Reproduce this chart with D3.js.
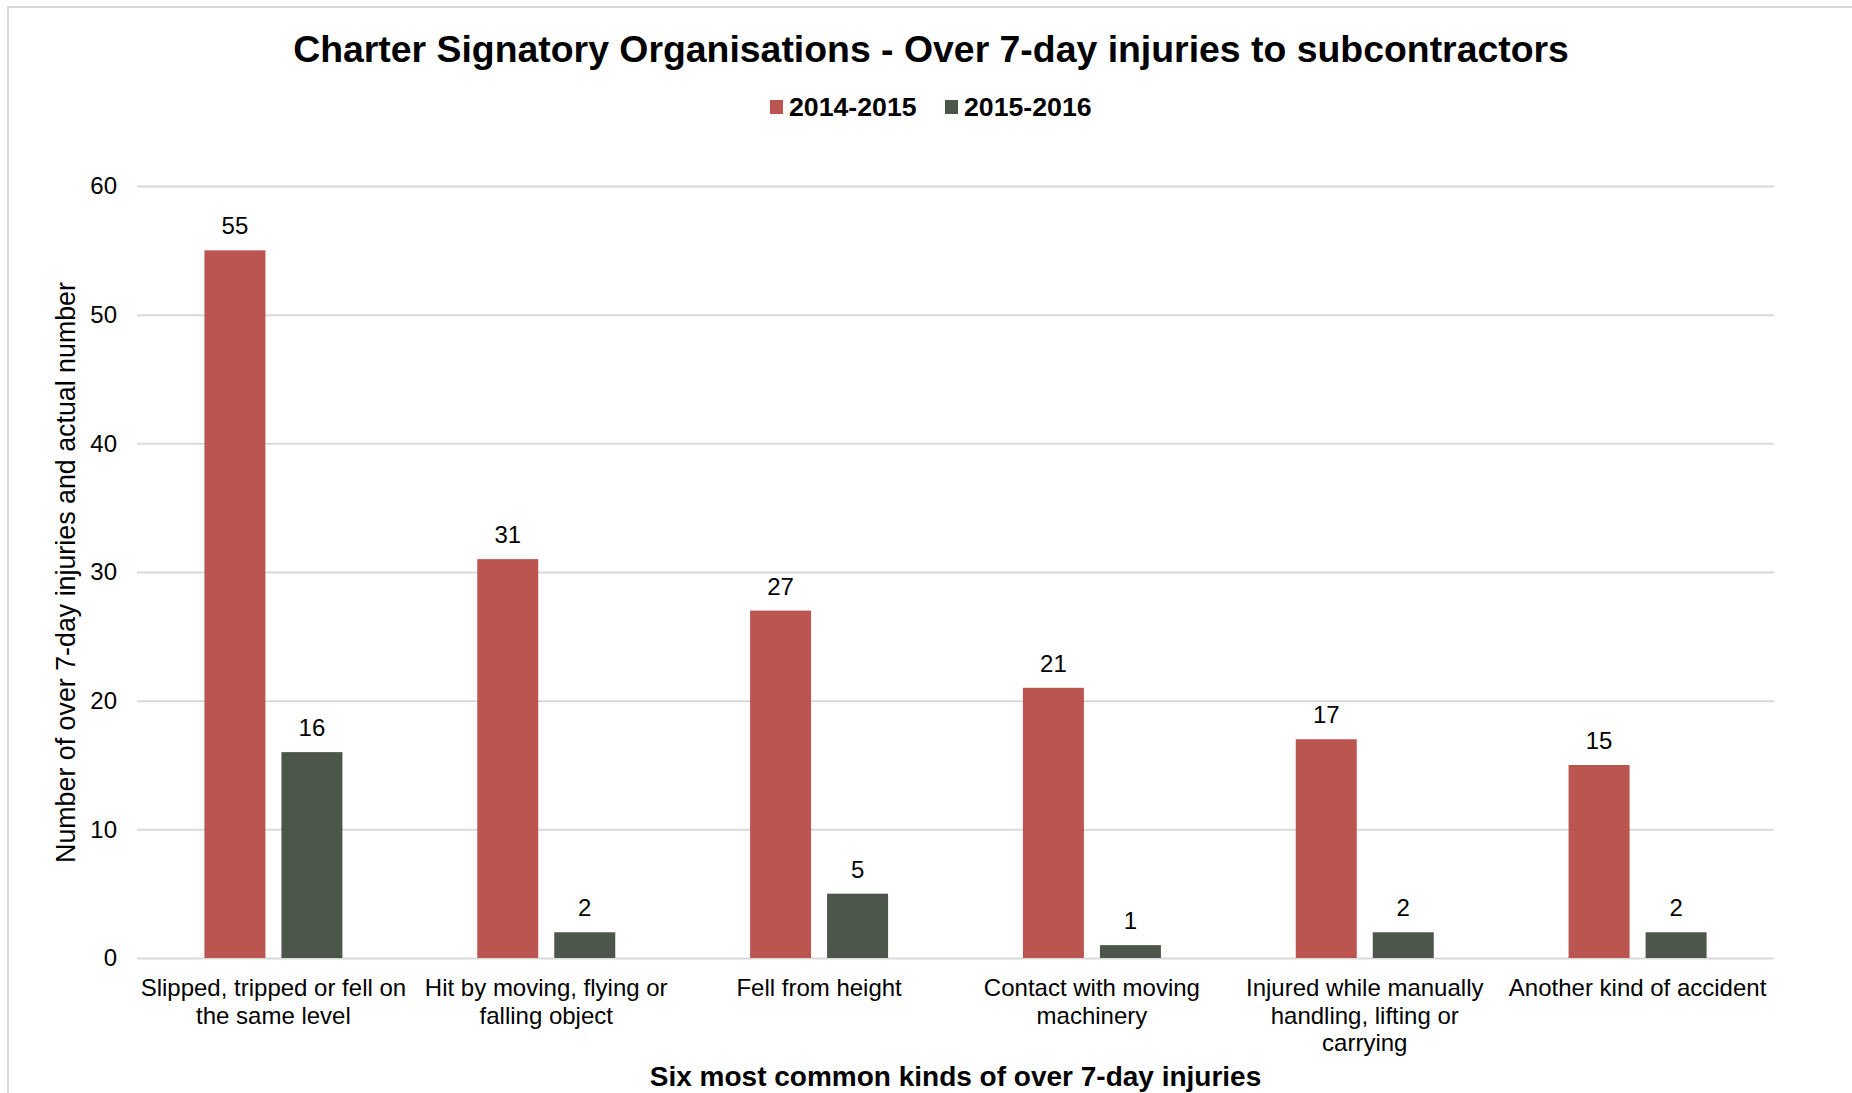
<!DOCTYPE html>
<html>
<head>
<meta charset="utf-8">
<script src="https://cdn.jsdelivr.net/npm/d3@7"></script>
<style>
  html, body { margin: 0; padding: 0; background: #fff; }
  svg { display: block; }
  text { font-family: "Liberation Sans", Arial, sans-serif; fill: #000; }
</style>
</head>
<body>
<svg id="chart" width="1852" height="1093"></svg>
<script>
const categories = [
  ["Slipped, tripped or fell on", "the same level"],
  ["Hit by moving, flying or", "falling object"],
  ["Fell from height"],
  ["Contact with moving", "machinery"],
  ["Injured while manually", "handling, lifting or", "carrying"],
  ["Another kind of accident"]
];
const seriesNames = ["2014-2015", "2015-2016"];
const values2014 = [55, 31, 27, 21, 17, 15];
const values2015 = [16, 2, 5, 1, 2, 2];
const yTicks = [0, 10, 20, 30, 40, 50, 60];
const colors = ["#BB554F", "#4D564A"];
const titleText = "Charter Signatory Organisations - Over 7-day injuries to subcontractors";
const xTitleText = "Six most common kinds of over 7-day injuries";
const yTitleText = "Number of over 7-day injuries and actual number";

const svg = d3.select("#chart");
const W = 1852, H = 1093;
const plot = { left: 137, right: 1774, top: 186, bottom: 958 };

// Chart area border
svg.append("rect")
  .attr("x", 8).attr("y", 7)
  .attr("width", W + 10).attr("height", H + 10)
  .attr("fill", "#fff").attr("stroke", "#D9D9D9").attr("stroke-width", 2);

const catIdx = categories.map((d, i) => i);
const x0 = d3.scaleBand().domain(catIdx).range([plot.left, plot.right]).padding(0);
const groupW = 138;
const x1 = d3.scaleBand().domain(seriesNames).range([0, groupW]).paddingInner(0.2078).paddingOuter(0);
const y = d3.scaleLinear().domain([0, 60]).range([plot.bottom, plot.top]);

// Gridlines
const yAxis = d3.axisLeft(y).tickValues(yTicks).tickSize(-(plot.right - plot.left)).tickPadding(20).tickFormat(d3.format("d"));
const gy = svg.append("g").attr("transform", `translate(${plot.left},0)`).call(yAxis);
gy.select(".domain").remove();
gy.selectAll(".tick line").attr("stroke", "#D9D9D9").attr("stroke-width", 2);
gy.selectAll(".tick text").attr("font-size", 24).attr("fill", "#000")
  .style("font-family", '"Liberation Sans", Arial, sans-serif');

// Bars
const data = catIdx.map(i => ({ i, vals: [values2014[i], values2015[i]] }));
const groups = svg.append("g").selectAll("g").data(data).join("g")
  .attr("transform", d => `translate(${x0(d.i) + (x0.bandwidth() - groupW) / 2},0)`);

groups.selectAll("rect").data(d => d.vals.map((v, s) => ({ v, s })))
  .join("rect")
  .attr("x", d => x1(seriesNames[d.s]))
  .attr("width", x1.bandwidth())
  .attr("y", d => y(d.v))
  .attr("height", d => y(0) - y(d.v))
  .attr("fill", d => colors[d.s]);

groups.selectAll("text.lbl").data(d => d.vals.map((v, s) => ({ v, s })))
  .join("text").attr("class", "lbl")
  .attr("x", d => x1(seriesNames[d.s]) + x1.bandwidth() / 2)
  .attr("y", d => y(d.v) - 16)
  .attr("text-anchor", "middle")
  .attr("font-size", 24)
  .text(d => d.v);

// Category labels
const catG = svg.append("g");
categories.forEach((lines, i) => {
  const t = catG.append("text")
    .attr("x", x0(i) + x0.bandwidth() / 2)
    .attr("y", 996)
    .attr("text-anchor", "middle")
    .attr("font-size", 24);
  lines.forEach((ln, k) => {
    t.append("tspan").attr("x", x0(i) + x0.bandwidth() / 2).attr("dy", k === 0 ? 0 : 27.5).text(ln);
  });
});

// Title
svg.append("text")
  .attr("x", 931).attr("y", 62)
  .attr("text-anchor", "middle")
  .attr("font-size", 37.4).attr("font-weight", "bold")
  .text(titleText);

// Legend
const legend = svg.append("g");
const legendX = [770, 945];
seriesNames.forEach((s, k) => {
  legend.append("rect").attr("x", legendX[k]).attr("y", 100).attr("width", 13).attr("height", 14).attr("fill", colors[k]);
  legend.append("text").attr("x", legendX[k] + 19).attr("y", 116)
    .attr("font-size", 26.7).attr("font-weight", "bold").text(s);
});

// Axis titles
svg.append("text")
  .attr("x", (plot.left + plot.right) / 2).attr("y", 1086)
  .attr("text-anchor", "middle")
  .attr("font-size", 28).attr("font-weight", "bold")
  .text(xTitleText);

svg.append("text")
  .attr("transform", `translate(75,${(283 + 862) / 2}) rotate(-90)`)
  .attr("text-anchor", "middle")
  .attr("font-size", 26.8)
  .text(yTitleText);
</script>
</body>
</html>
